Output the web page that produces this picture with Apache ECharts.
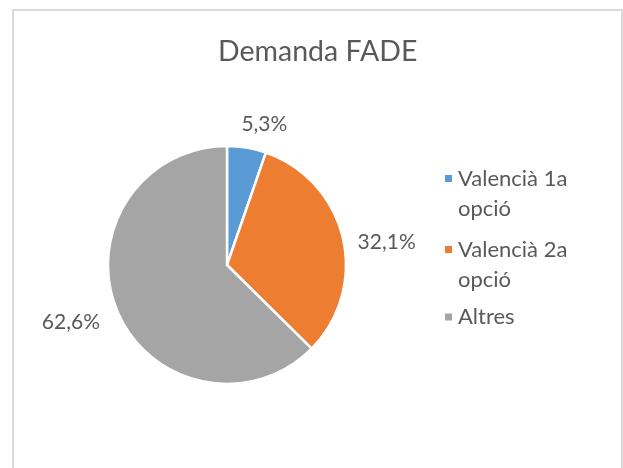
<!DOCTYPE html>
<html>
<head>
<meta charset="utf-8">
<script src="https://cdn.jsdelivr.net/npm/echarts@6/dist/echarts.min.js"></script>
<style>
html,body{margin:0;padding:0;background:#fff;}
#chart{width:623px;height:468px;}
</style>
</head>
<body>
<div id="chart"></div>
<script>
const titleText = 'Demanda FADE';
const categories = ['Valencià 1a opció', 'Valencià 2a opció', 'Altres'];
const legendLines = [['Valencià 1a', 'opció'], ['Valencià 2a', 'opció'], ['Altres']];
const values = [5.3, 32.1, 62.6];
const colors = ['#5B9BD5', '#ED7D31', '#A5A5A5'];

const FONT = 'Lato';
const TXT = '#595959';
const labelShift = [[-12, -14], [0, 7], [-3, 7]];
const legendTops = [133.5, 204.5, 302];

const chart = echarts.init(document.getElementById('chart'), null, {renderer: 'canvas'});

// an empty leading line keeps the first text line centred on the marker
const legends = categories.map((c, i) => ({
  orient: 'vertical',
  left: 443,
  top: legendTops[i],
  padding: 0,
  itemWidth: 9,
  itemHeight: 9,
  icon: 'rect',
  data: [c],
  formatter: () => legendLines[i].length > 1 ? '\n' + legendLines[i].join('\n') : legendLines[i][0],
  textStyle: {fontFamily: FONT, fontSize: 22, color: TXT, lineHeight: 30}
}));

chart.setOption({
  animation: false,
  backgroundColor: '#fff',
  color: colors,
  title: {
    text: titleText,
    left: 218,
    top: 37,
    padding: 0,
    textStyle: {fontFamily: FONT, fontSize: 28.5, fontWeight: 'normal', color: TXT}
  },
  graphic: [{
    type: 'rect',
    shape: {x: 13, y: 10, width: 609, height: 470},
    style: {fill: 'none', stroke: '#d9d9d9', lineWidth: 2},
    silent: true
  }],
  legend: legends,
  series: [{
    type: 'pie',
    center: [227, 265],
    radius: 119,
    startAngle: 90,
    clockwise: true,
    avoidLabelOverlap: false,
    itemStyle: {borderColor: '#fff', borderWidth: 2.5},
    label: {
      show: true,
      position: 'outside',
      formatter: p => p.value.toFixed(1).replace('.', ',') + '%',
      fontFamily: FONT, fontSize: 21, color: TXT
    },
    labelLine: {show: false, length: 10, length2: 0},
    labelLayout: p => ({dx: labelShift[p.dataIndex][0], dy: labelShift[p.dataIndex][1]}),
    data: categories.map((c, i) => ({name: c, value: values[i]}))
  }]
});
</script>
</body>
</html>
